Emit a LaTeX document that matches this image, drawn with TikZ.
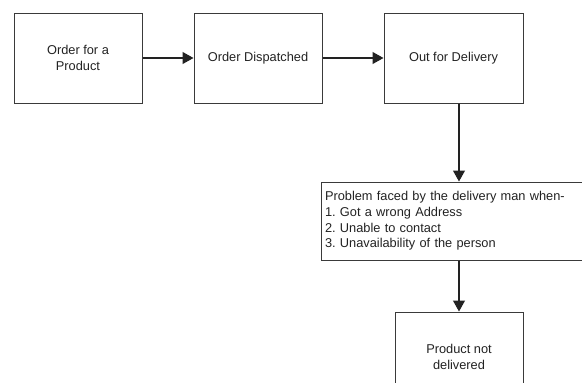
\documentclass[tikz,border=0pt]{standalone}
\usepackage{fontspec}
\setmainfont{Liberation Sans}
\frenchspacing
\usetikzlibrary{arrows.meta}
\definecolor{linegray}{HTML}{3A3A3A}
\definecolor{textgray}{HTML}{222222}
\tikzset{
  stepbox/.style={draw=linegray, line width=1pt, rectangle, align=center,
    minimum width=128pt, minimum height=90pt, text=textgray,
    font=\fontsize{12.8}{15.7}\selectfont},
  flow/.style={draw=textgray, line width=1.1pt, -{Triangle[length=11pt,width=12pt]}}
}
\begin{document}
\begin{tikzpicture}% [ show background grid ]
\useasboundingbox (0pt,0pt) rectangle (582pt,-383pt);
\clip (0pt,0pt) rectangle (582pt,-383pt);

\node[stepbox] (order) at (78pt,-58pt) {Order for a\\Product};
\node[stepbox] (dispatched) at (258pt,-58pt) {Order Dispatched};
\node[stepbox, minimum width=139pt] (delivery) at (453.5pt,-58pt) {Out for Delivery};

\node[stepbox, align=left, inner sep=4pt, text width=331pt,
  minimum height=78pt] (problem) at (490.5pt,-221pt)
  {Problem faced by the delivery man when-\\
   1. Got a wrong Address\\
   2. Unable to contact\\
   3. Unavailability of the person};

\node[stepbox] (notdelivered) at (459pt,-357pt) {Product not\\delivered};

\draw[flow] (order) -- (dispatched);
\draw[flow] (dispatched) -- (delivery);
\draw[flow] (notdelivered.north |- delivery.south) -- (notdelivered.north |- problem.north);
\draw[flow] (notdelivered.north |- problem.south) -- (notdelivered.north);

\end{tikzpicture}
\end{document}
